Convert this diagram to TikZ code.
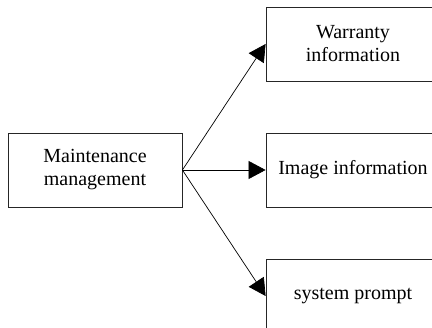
\documentclass[tikz,border=0pt]{standalone}
\usepackage{fontspec}
\setmainfont{Liberation Serif}
\usetikzlibrary{arrows.meta}
\begin{document}
\begin{tikzpicture}[x=1pt,y=-1pt,
  boxnode/.style={draw=black!85,line width=0.8pt,minimum width=174pt,minimum height=74pt,inner sep=0pt,align=center,font=\fontsize{20}{23}\selectfont},
  conn/.style={line width=0.7pt,-{Triangle[length=17pt,width=18pt]}}]
\useasboundingbox (0,0) rectangle (432,328);
\clip (0,0) rectangle (432,328);
\node[boxnode] (mm) at (95,170) {Maintenance\\management};
\node[boxnode] (wi) at (353,44) {Warranty\\information};
\node[boxnode] (ii) at (353,170) {Image information};
\node[boxnode] (sp) at (353,296) {system prompt};
\draw[conn] (mm.east) -- (wi.west);
\draw[conn] (mm.east) -- (ii.west);
\draw[conn] (mm.east) -- (sp.west);
\end{tikzpicture}
\end{document}
